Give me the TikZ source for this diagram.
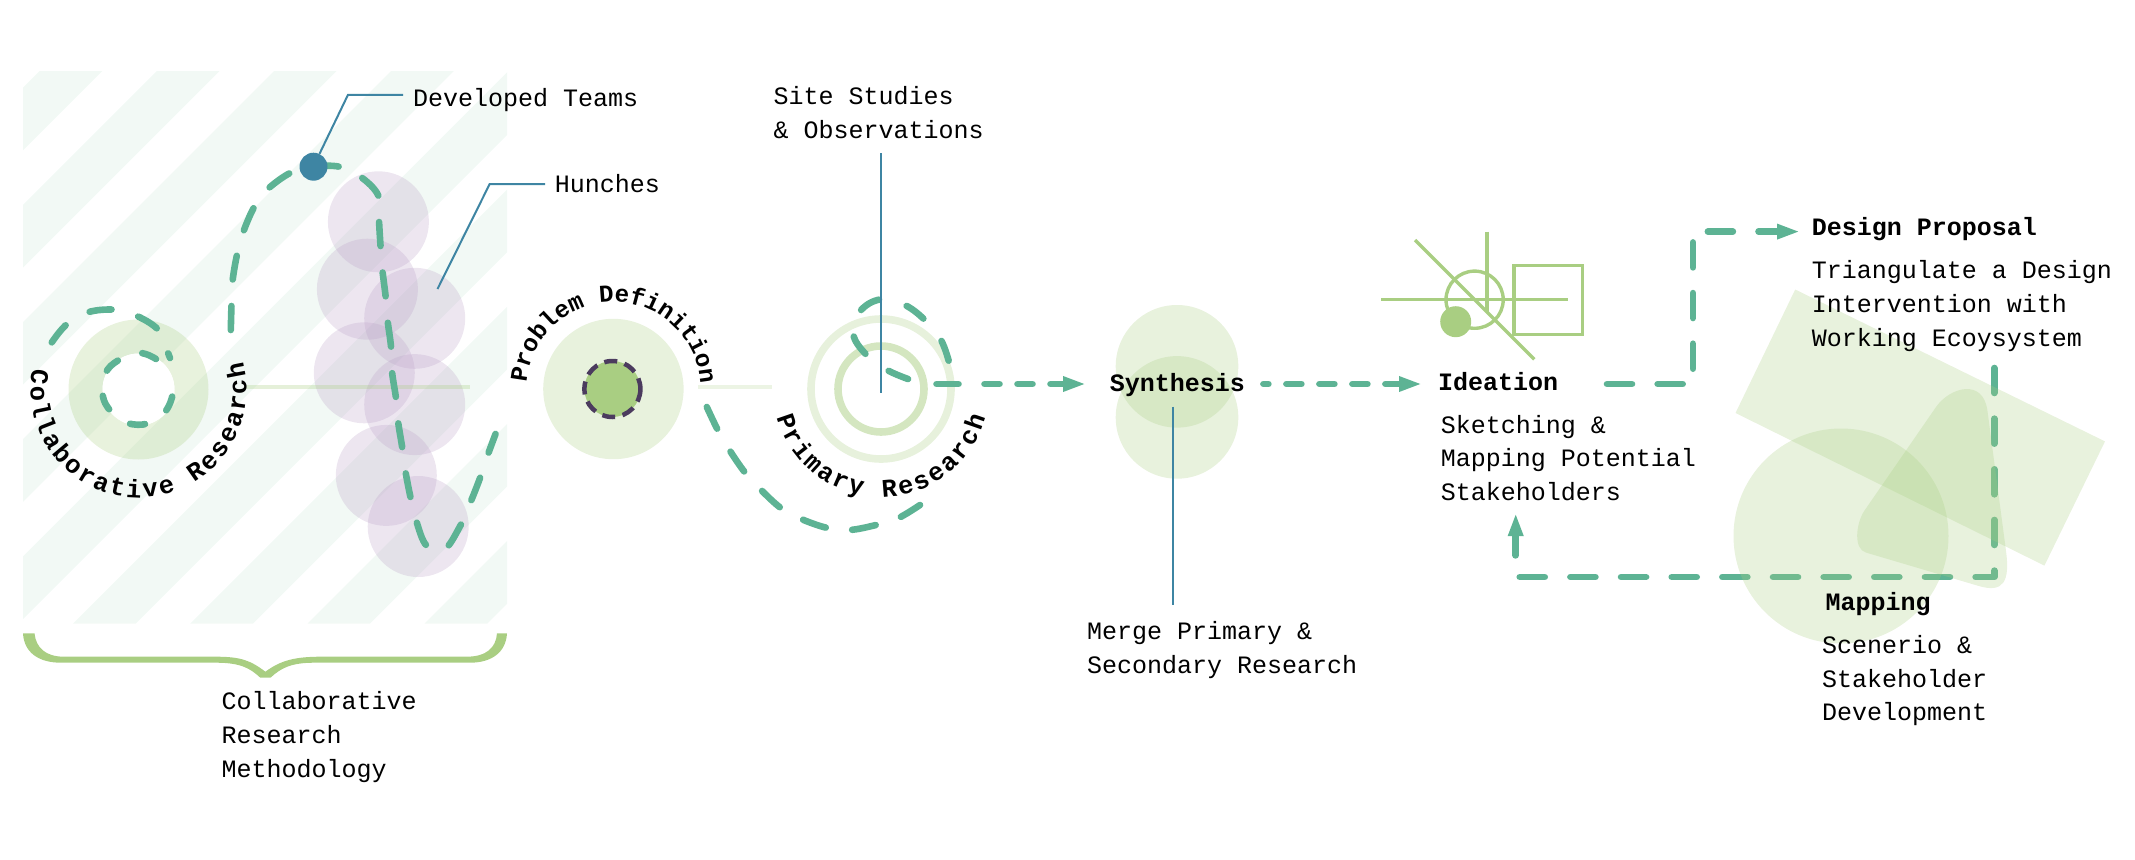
\documentclass[tikz,border=0pt]{standalone}
\usepackage{fontspec}
\usetikzlibrary{arrows.meta,decorations.text}
\newfontfamily\plexfont{Liberation Mono}
\definecolor{flowc}{HTML}{5DB394}
\definecolor{limec}{HTML}{A9CE82}
\definecolor{stripec}{HTML}{F2F9F5}
\definecolor{purplec}{HTML}{B99EC6}
\definecolor{bluec}{HTML}{3E85A3}
\definecolor{darkc}{HTML}{4B3B5E}
\newcommand{\bodyfont}{\plexfont\fontsize{25}{33.7}\selectfont}
\newcommand{\curvefont}{\plexfont\bfseries\fontsize{25.5}{30}\selectfont}
\newcommand{\curvefontsmall}{\plexfont\bfseries\fontsize{24.3}{30}\selectfont}
\tikzset{
  flowbase/.style={draw=flowc,line width=6.6pt,line cap=round,line join=round},
  flowlong/.style={flowbase,dash pattern=on 24pt off 26.6pt},
  flowmap/.style={flowbase,dash pattern=on 25pt off 25.65pt},
  flowshort/.style={flowbase,dash pattern=on 15pt off 18pt},
  flowhead/.style={-{Triangle[length=23pt,width=14pt]}},
  pale/.style={fill=limec,fill opacity=.27},
  hunch/.style={fill=purplec,fill opacity=.26},
  leader/.style={draw=bluec,line width=2pt},
  glyph/.style={draw=limec,line width=3.4pt},
  bodytext/.style={font=\bodyfont,align=left,anchor=base west,inner sep=0pt,text=black},
  headtext/.style={font=\bodyfont\bfseries,align=left,anchor=base west,inner sep=0pt,text=black},
  curved/.style={decorate,decoration={text along path,text={|\curvefont|#1},text align={fit to path}}},
  curvedsmall/.style={decorate,decoration={text along path,text={|\curvefontsmall|#1},text align={fit to path}}}
}
\begin{document}
\begin{tikzpicture}[x=1pt,y=-1pt]
\useasboundingbox (0,0) rectangle (2135,859);
% striped field
\begin{scope}
  \clip (23,71) rectangle (507,623.5);
  \foreach \k in {-1,...,9}{
    \pgfmathsetmacro\aa{39.6+117.2*\k}
    \fill[stripec] (\aa,71) -- ({\aa+62.7},71) -- ({\aa+62.7-552.5},623.5) -- ({\aa-552.5},623.5) -- cycle;
  }
\end{scope}
% collaborative ring
\fill[pale,even odd rule] (138.5,389.5) circle[radius=70] (138.5,389.5) circle[radius=36];
\fill[white] (138.5,389.5) circle[radius=36];
% hunch circles
\foreach \cx/\cy in {378.4/221.8,367.4/289.2,414.7/318.3,364.3/372.8,414.7/404.6,386.3/475.4,418.2/526.5}
  \fill[hunch] (\cx,\cy) circle[radius=50.5];
\draw[draw=limec,draw opacity=.3,line width=4.5pt] (245,387) -- (470,387);
\draw[draw=limec,draw opacity=.22,line width=4.5pt] (698,387) -- (771.6,387);
% spiral one
\draw[flowbase,dash pattern=on 15pt off 26pt] plot[smooth,tension=.7] coordinates {(156,359) (139.5,353) (118.8,360) (105,374.5) (103.3,398) (115.4,415.5) (132.6,424.3) (153.3,421.2) (168.8,406) (175.7,379)};
\draw[flowbase,dash pattern=on 22pt off 28pt,dash phase=17pt] plot[smooth,tension=.7] coordinates {(170,358) (167,350.4) (158.5,330) (132.6,314) (112,309.5) (84.4,313.3) (65.4,325.5) (50,345)};
% spiral two
\draw[flowlong] plot[smooth,tension=.6] coordinates {(230.8,330) (231.5,304.5) (232.5,281.5) (237,254.7) (242.9,233) (254.2,206.9) (267,189.7) (291,172.5) (313.5,166.7) (339.3,166.7) (360,176.3) (378.2,195.4) (379,220.3) (380.6,247) (382.4,270) (385.8,298) (387.5,319.8) (391,346.6) (392,371.5) (396,398.3) (397.9,420.4) (402.3,448) (405.4,471) (410.6,497.8) (416,520) (426.5,545.6) (444.4,549.4) (459.9,526.5) (469.2,505.4) (479.5,479.4) (486.4,458.7) (495.5,434)};
% problem definition
\fill[pale] (613.4,389) circle[radius=70.2];
\fill[limec] (612.4,389) circle[radius=28];
\draw[darkc,line width=4.5pt,dash pattern=on 13pt off 7.6pt] (612.4,389) circle[radius=28];
% primary rings
\draw[draw=limec,draw opacity=.28,line width=7.6pt] (881,389) circle[radius=70];
\draw[draw=limec,draw opacity=.5,line width=7.6pt] (881,389) circle[radius=43];
% primary spiral
\draw[flowbase,dash pattern=on 21pt off 29pt] plot[smooth,tension=.7] coordinates {(908,379) (885.7,369.3) (866.5,355) (853,333.3) (859.6,311.7) (881,299.3) (904.8,305) (926.6,321.7) (941,340) (949,362)};
% problem to primary arc
\draw[flowlong] plot[smooth,tension=.6] coordinates {(706.8,407) (717.3,429) (728.8,449) (744.8,472.3) (759.4,488.3) (780.4,507.7) (799.6,518.3) (826.3,527.7) (849.3,530) (876,525) (897.9,518.3) (920,505)};
% synthesis circles
\fill[pale] (1177,366.3) circle[radius=61.3];
\fill[pale] (1177,417.4) circle[radius=61.3];
% ideation glyph
\draw[glyph] (1381,299.7) -- (1567.9,299.7);
\draw[glyph] (1415,240) -- (1534.3,359.3);
\draw[glyph] (1487,231.7) -- (1487,312);
\draw[glyph] (1474.6,299.7) circle[radius=28.6];
\draw[glyph] (1514,265.7) rectangle (1582.5,334.3);
\fill[limec] (1455.7,321.7) circle[radius=15.5];
% main connectors
\coordinate (primaryout) at (936.5,384);
\coordinate (synthin) at (1086,384);
\coordinate (synthout) at (1263.4,384);
\coordinate (ideain) at (1422,384);
\coordinate (ideaout) at (1607,384);
\coordinate (ideacorner) at (1693,384);
\coordinate (propcorner) at (1693,231.6);
\coordinate (propin) at (1800,231.6);
\coordinate (mapstart) at (1994.2,368);
\coordinate (mapcorner) at (1994.2,577);
\coordinate (mapleft) at (1515.7,577);
\coordinate (ideabelow) at (1515.7,513);
\draw[flowbase,flowhead,dash pattern=on 22pt off 26pt on 15pt off 18pt on 15pt off 18pt on 30pt off 10pt] (primaryout) -- (synthin);
\draw[flowshort,flowhead,dash phase=10pt] (synthout) -- (ideain);
\draw[flowmap,flowhead] (ideaout) -- (ideacorner) -- (propcorner) -- (propin);
\draw[flowmap,flowhead] (mapstart) -- (mapcorner) -- (mapleft) -- (ideabelow);
% overlaid mapping shapes
\fill[pale] (1795.2,289.5) -- (2105,441.4) -- (2044.4,565.6) -- (1735.5,413) -- cycle;
\fill[pale] (1841,536) circle[radius=107.5];
\fill[pale] (1936,407) .. controls (1950,387) and (1983,378) .. (1987.4,410.5) -- (2006,551) .. controls (2010,581) and (2003.8,593.4) .. (1978.8,586) -- (1866,552.6) .. controls (1853,549) and (1856,523) .. (1864.5,510.5) -- cycle;
% brace
\fill[limec] (23,633.3) .. controls (24,652) and (38,662.7) .. (61,662.7) -- (216,662.7) .. controls (240,662.7) and (250,668) .. (260.3,677.7) -- (270.5,677.7) .. controls (281,668) and (291,662.7) .. (314.4,662.7) -- (470,662.7) .. controls (492,662.7) and (506,652) .. (507,633.3) -- (497,633.3) .. controls (496,648) and (486,656.7) .. (466.5,656.7) -- (321,656.7) .. controls (296,656.7) and (281,660) .. (265.4,671.7) .. controls (250,660) and (240,656.7) .. (216,656.7) -- (64,656.7) .. controls (46,656.7) and (36,648) .. (34.5,633.3) -- cycle;
% text labels
\node[bodytext] (teams) at (413,106) {Developed Teams};
\node[bodytext] (hunches) at (554.6,192) {Hunches};
\node[bodytext] (site) at (773.5,138.5) {Site Studies\\\& Observations};
\node[bodytext] (method) at (221.4,777.3) {Collaborative\\Research\\Methodology};
\node[bodytext] (merge) at (1087,673.3) {Merge Primary \&\\Secondary Research};
\node[headtext] (synthesis) at (1109.6,391) {Synthesis};
\node[headtext] (ideation) at (1437.9,390) {Ideation};
\node[bodytext] (ideatext) at (1440.7,500.5) {Sketching \&\\Mapping Potential\\Stakeholders};
\node[headtext] (proposal) at (1811.6,235.8) {Design Proposal};
\node[bodytext] (proposaltext) at (1811.6,346) {Triangulate a Design\\Intervention with\\Working Ecoysystem};
\node[headtext] (mapping) at (1825.3,610.5) {Mapping};
\node[bodytext] (mappingtext) at (1821.8,720.8) {Scenerio \&\\Stakeholder\\Development};
% team dot and leaders
\node[circle,fill=bluec,draw=none,minimum size=28pt,inner sep=0pt] (teamsdot) at (313.5,166.7) {};
\coordinate (teamselbow) at (348,94.8);
\coordinate (teamsend) at (403,94.8);
\draw[leader] (teamsdot.65) -- (teamselbow) -- (teamsend);
\coordinate (hunchspot) at (437.5,289);
\coordinate (hunchelbow) at (489.7,184);
\coordinate (hunchend) at (545,184);
\draw[leader] (hunchspot) -- (hunchelbow) -- (hunchend);
\coordinate (sitetop) at (881,153.3);
\coordinate (sitebottom) at (881,393.3);
\draw[leader] (sitetop) -- (sitebottom);
\coordinate (mergetop) at (1172.9,406.7);
\coordinate (mergebottom) at (1172.9,605);
\draw[leader] (mergetop) -- (mergebottom);
% curved labels
\path[curved={Collaborative Research}] (138.5,389.5) ++(191:108) arc[start angle=191,end angle=-15,radius=108];
\path[curvedsmall={Problem Definition}] (613.4,389) ++(184:87) arc[start angle=184,end angle=356,radius=87];
\path[curved={Primary Research}] (881,389) ++(165:108) arc[start angle=165,end angle=15,radius=108];
\end{tikzpicture}
\end{document}
